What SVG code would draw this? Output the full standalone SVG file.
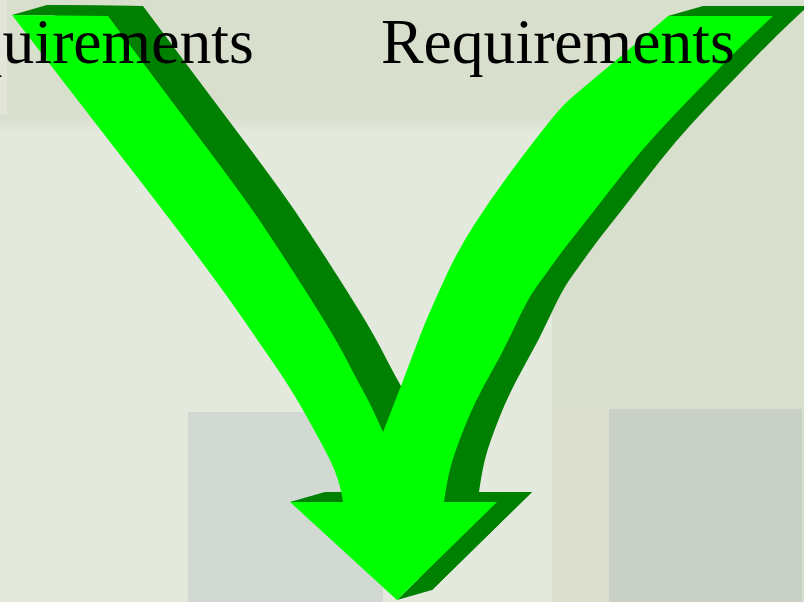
<svg xmlns="http://www.w3.org/2000/svg" xmlns:xlink="http://www.w3.org/1999/xlink" width="804" height="602" viewBox="0 0 804 602">
<style>
.front{fill:#00ff00;}
.side{fill:#008000;}
.label{font-family:"Liberation Serif","Times New Roman",serif;font-size:63.7px;fill:#000;}
</style>
<defs>
<linearGradient id="band" x1="0" y1="0" x2="0" y2="1">
<stop offset="0" stop-color="#dadfcf"/>
<stop offset="1" stop-color="#e4e9de"/>
</linearGradient>
<path id="arrowShape" d="M12,15 L108,16 L139,57.5 Q170,99 208,149.5 Q246,200 262,224 Q278,248 293.5,272 Q309,296 323.5,319.5 Q338,343 347.5,361.5 Q357,380 364,392.5 Q371,405 383,432 L393,406.5 Q403,381 412.5,355.5 Q422,330 428.5,315 Q435,300 446.5,275 Q458,250 474,225 Q490,200 508.5,175 Q527,150 543.5,129 Q560,108 569,100 Q578,92 599,74.5 Q620,57 644,36.5 L668,16 L773,16 L756.5,31.5 Q740,47 722.5,65 Q705,83 688.5,100 Q672,117 656,134.5 Q640,152 625,171 Q610,190 596.5,207.5 Q583,225 573,237.5 Q563,250 554,262.5 Q545,275 536,287.5 Q527,300 515.5,325 Q504,350 489.5,375.5 Q475,401 465,426 Q455,451 451,465.5 Q447,480 444,502 L497,502 L397,600 L290,502 L343,502 L342,496 Q341,490 338,480 Q335,470 330,460 Q325,450 319,439 Q313,428 305.5,414.5 Q298,401 289.5,387.5 Q281,374 272,361 Q263,348 246.5,324 Q230,300 211.5,275 Q193,250 174,225 Q155,200 129,166.5 Q103,133 77.5,100 Q52,67 12,15 Z"/>
</defs>
<g id="background">
<rect x="0" y="0" width="804" height="602" fill="#d9dfcd"/>
<rect x="0" y="118" width="552" height="14" fill="url(#band)"/>
<rect x="0" y="132" width="552" height="470" fill="#e4e9de"/>
<rect x="0" y="0" width="7" height="115" fill="#e3e5db"/>
<rect x="552" y="404" width="57" height="198" fill="#dcdfcf"/>
<rect x="188" y="412" width="195" height="190" fill="#d1d9d2"/>
<rect x="609" y="409" width="193" height="193" fill="#c9d1c6"/>
</g>
<g id="arrow">
<use xlink:href="#arrowShape" href="#arrowShape" class="side" transform="translate(35,-10)"/>
<polygon class="side" points="12,15 108,16 143,6 47,5"/>
<polygon class="side" points="668,16 773,16 808,6 703,6"/>
<polygon class="side" points="290,502 343,502 378,492 325,492"/>
<polygon class="side" points="444,502 497,502 532,492 479,492"/>
<polygon class="side" points="497,502 397,600 432,590 532,492"/>
<use xlink:href="#arrowShape" href="#arrowShape" class="front"/>
</g>
<g id="labels">
<text class="label" x="-100" y="63">Requirements</text>
<text class="label" x="381" y="63">Requirements</text>
</g>
</svg>
